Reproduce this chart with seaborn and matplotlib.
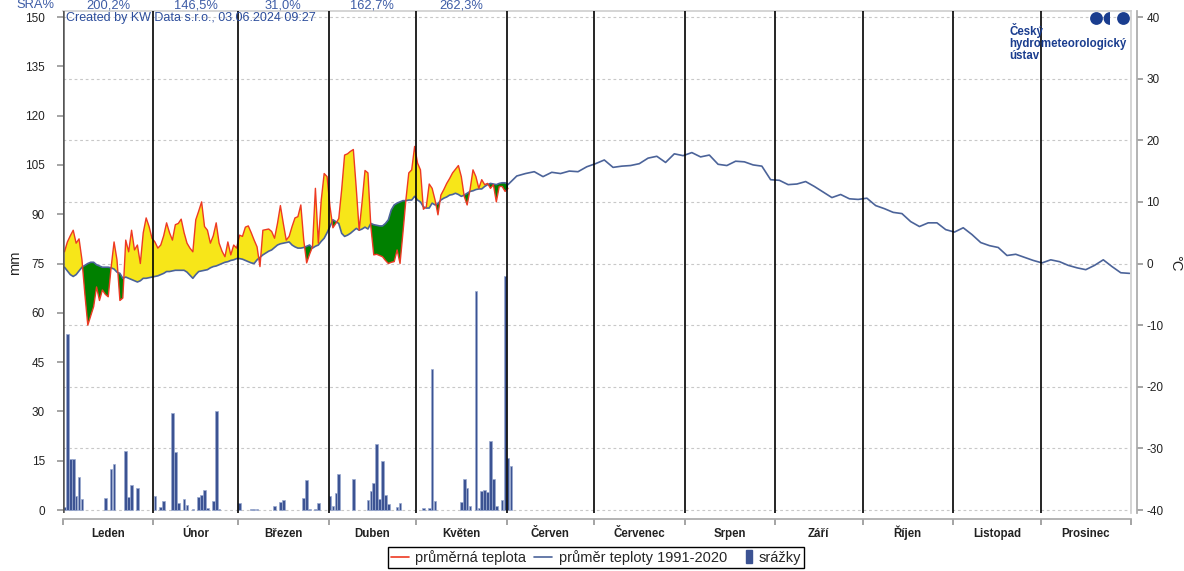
import numpy as np
import pandas as pd
import matplotlib
matplotlib.use("Agg")
import matplotlib.pyplot as plt
import matplotlib.transforms as mtransforms
from matplotlib.patches import Circle, Wedge, Rectangle, Patch
from matplotlib.lines import Line2D
from matplotlib.legend_handler import HandlerPatch
import seaborn as sns

# ---------------- data ----------------
months = ["Leden", "Únor", "Březen", "Duben", "Květen", "Červen", "Červenec",
          "Srpen", "Září", "Říjen", "Listopad", "Prosinec"]
month_days = [31, 29, 31, 30, 31, 30, 31, 31, 30, 31, 30, 31]
sra_label = "SRA%"
sra_values = ["200,2%", "146,5%", "31,0%", "162,7%", "262,3%"]

# daily mean temperature 2024 (°C)
temp_jan = [1.9, 3.5, 4.5, 5.4, 3.3, 4.0, 0.6, -5.0, -10.0, -8.5, -7.0, -3.8, -6.0, -4.3, -5.0,
            -5.4, -0.6, 3.5, 0.6, -6.0, -5.6, 3.8, 1.9, 5.4, 2.2, 3.0, 0.0, 5.0, 7.4, 6.0, 4.1]
temp_feb = [3.5, 2.5, 3.0, 4.5, 6.6, 5.0, 3.8, 6.3, 6.5, 7.2, 5.0, 3.3, 2.5, 1.9, 7.1,
            8.5, 10.0, 6.0, 5.4, 3.3, 4.5, 6.6, 3.3, 2.0, 1.1, 3.5, 1.4, 3.0, 2.5]
temp_mar = [4.6, 4.4, 5.9, 6.1, 5.0, 3.8, 2.7, -0.5, 5.4, 5.5, 5.6, 5.2, 4.1, 6.5, 9.4,
            6.5, 3.8, 4.4, 6.0, 7.4, 7.6, 9.5, 3.8, 0.1, 1.5, 2.7, 12.2, 3.3, 10.3, 14.6, 14.1]
temp_apr = [9.2, 5.8, 6.5, 7.3, 12.0, 17.6, 17.8, 18.2, 18.5, 12.2, 5.4, 10.0, 15.1, 14.7, 6.0,
            1.4, 1.5, 1.3, 1.1, 0.5, 0.0, 0.2, 0.3, 2.2, 0.0, 5.0, 10.3, 14.7, 15.2, 19.0]
temp_may = [16.3, 15.2, 8.8, 9.2, 12.9, 12.2, 10.3, 7.9, 11.1, 12.0, 13.0, 13.8, 14.7, 15.3, 15.9,
            14.1, 10.9, 9.5, 12.0, 15.2, 14.1, 12.2, 13.6, 12.8, 13.0, 12.2, 12.8, 10.0, 12.5, 12.5, 11.7]
temp_jun = [12.2]

# normal 1991-2020 (°C), daily for the measured period
norm_jan = [-0.6, -1.2, -1.8, -2.1, -1.8, -1.2, -0.6, -0.3, 0.0, 0.2, 0.2, -0.2, -0.4, -0.6, -0.6,
            -0.6, -0.7, -0.9, -1.4, -1.6, -2.4, -2.2, -2.4, -2.6, -2.8, -3.0, -2.8, -2.4, -2.4, -2.3, -2.2]
norm_feb = [-2.1, -2.0, -1.8, -1.6, -1.3, -1.3, -1.2, -1.1, -1.1, -1.1, -1.1, -1.4, -1.9, -2.4, -1.8,
            -1.3, -1.2, -1.1, -1.0, -0.7, -0.5, -0.4, -0.2, 0.0, 0.2, 0.3, 0.5, 0.6, 0.8]
norm_mar = [0.8, 0.7, 0.5, 0.3, 0.1, 0.0, 0.6, 1.0, 1.4, 1.7, 2.0, 2.2, 2.6, 3.0, 3.2,
            3.3, 3.4, 3.5, 3.0, 2.7, 2.5, 2.5, 2.6, 2.8, 3.0, 2.5, 2.8, 3.0, 3.6, 4.1, 5.0]
norm_apr = [6.0, 7.1, 6.8, 6.5, 4.9, 4.4, 4.6, 4.9, 5.3, 5.7, 5.4, 5.6, 5.9, 5.6, 6.5,
            6.3, 6.2, 6.1, 6.1, 6.5, 7.1, 8.7, 9.5, 9.8, 10.0, 10.2, 10.2, 10.3, 10.3, 10.9]
norm_may = [10.3, 10.0, 9.2, 9.0, 9.0, 9.8, 9.5, 9.7, 10.3, 10.6, 10.8, 11.1, 11.2, 11.4, 11.2,
            10.9, 11.1, 11.4, 11.7, 11.8, 12.0, 12.1, 12.1, 12.5, 12.8, 13.0, 12.9, 12.8, 13.0, 13.1, 13.1]
norm_jun = [12.8]
# normal for the rest of the year, every 3rd day from day 155 (4 June) to day 365
norm_rest_start = 155
norm_rest_step = 3
norm_rest = [14.2, 14.6, 14.9, 14.1, 14.8, 14.6, 15.0, 14.9, 15.7, 16.2,
             16.8, 15.6, 15.8, 15.9, 16.2, 17.1, 17.4, 16.4, 17.8, 17.5,
             18.0, 17.3, 17.6, 16.1, 15.9, 16.6, 16.5, 16.0, 15.8, 13.6,
             13.5, 12.8, 12.9, 13.3, 12.5, 11.6, 10.7, 11.2, 10.5, 10.4,
             10.6, 9.4, 8.9, 8.3, 8.1, 6.8, 6.0, 6.6, 6.6, 5.5,
             5.1, 5.8, 4.7, 3.4, 2.9, 2.6, 1.3, 1.5, 1.0, 0.5,
             0.1, 0.6, 0.3, -0.3, -0.7, -1.0, -0.3, 0.6, -0.5, -1.5, -1.6]

# daily precipitation (mm)
precip_jan = [0.9, 53.7, 15.6, 15.6, 4.4, 10.0, 3.2, 0, 0, 0, 0, 0, 0, 0, 3.7,
              0, 12.6, 14.1, 0, 0, 0, 17.9, 4.1, 7.7, 0, 6.8, 0, 0, 0, 0, 0]
precip_feb = [4.4, 0, 0.9, 2.6, 0, 0, 29.5, 17.8, 2.1, 0, 3.2, 1.4, 0, 0.2, 0,
              3.9, 4.7, 6.2, 0.7, 0, 2.7, 30.1, 0.4, 0, 0, 0, 0, 0, 0]
precip_mar = [2.1, 0, 0, 0, 0.3, 0.3, 0.3, 0, 0, 0, 0, 0, 1.1, 0, 2.4,
              2.9, 0, 0, 0, 0, 0, 0, 3.7, 9.0, 0.2, 0, 0.4, 2.2, 0, 0, 0]
precip_apr = [4.2, 1.2, 5.2, 11.0, 0, 0, 0, 0, 9.3, 0, 0, 0, 0, 2.9, 5.9,
              8.2, 20.0, 3.4, 14.8, 4.6, 1.7, 0, 0, 0.9, 2.1, 0, 0, 0, 0, 0]
precip_may = [0, 0, 0.5, 0, 0.5, 42.8, 2.7, 0, 0, 0, 0, 0, 0, 0, 0,
              2.4, 9.5, 6.8, 1.2, 0, 66.6, 0.5, 5.9, 6.2, 5.4, 20.9, 9.5, 1.2, 0, 2.9, 71.1]
precip_jun = [15.9, 13.3]

created_text = "Created by KW Data s.r.o., 03.06.2024 09:27"
logo_lines = ["Český", "hydrometeorologický", "ústav"]
legend_labels = ["průměrná teplota", "průměr teploty 1991-2020", "srážky"]

# ---------------- assemble ----------------
temp = np.array(temp_jan + temp_feb + temp_mar + temp_apr + temp_may + temp_jun)
norm_daily = np.array(norm_jan + norm_feb + norm_mar + norm_apr + norm_may + norm_jun)
t_days = np.arange(len(temp)) + 0.5
rest_days = norm_rest_start + norm_rest_step * np.arange(len(norm_rest)) + 0.5
norm_df = pd.DataFrame({"day": np.concatenate([t_days, rest_days]),
                        "t": np.concatenate([norm_daily, norm_rest])})
temp_df = pd.DataFrame({"day": t_days, "t": temp})
precip = np.array(precip_jan + precip_feb + precip_mar + precip_apr + precip_may + precip_jun)
p_days = np.arange(len(precip)) + 0.5
wet = precip > 0

month_start = np.concatenate([[0], np.cumsum(month_days)])
month_mid = month_start[:-1] + np.array(month_days) / 2

# ---------------- style ----------------
sns.set_theme(style="white")
plt.rcParams['font.family'] = ['Liberation Sans', 'DejaVu Sans']
plt.rcParams['axes.unicode_minus'] = False

C_RED = "#ee3a23"
C_BLUE = "#4b6399"
C_BAR = "#3c5393"
C_YEL = "#f7e619"
C_GRN = "#008000"
C_TXT = "#2c4d9c"

W, H = 1184, 571
fig = plt.figure(figsize=(W / 100, H / 100), dpi=100)
ax = fig.add_axes([63 / W, 1 - 513 / H, 1068 / W, 502 / H])
ax2 = ax.twinx()
ax.set_zorder(ax2.get_zorder() + 1)
ax.patch.set_visible(False)
ax2.patch.set_facecolor("white")
ax2.patch.set_visible(True)

mm_lo, mm_hi = -0.91, 151.83
ax.set_ylim(mm_lo, mm_hi)
ax2.set_ylim((mm_lo - 75) / 1.875, (mm_hi - 75) / 1.875)
ax.set_xlim(month_start[0], month_start[-1])

# bars
ax.bar(p_days[wet], precip[wet], width=0.9, color=C_BAR, edgecolor="#9aaad0", linewidth=0.5, zorder=3)

# temperatures
ax2.fill_between(t_days, temp, norm_daily, where=temp >= norm_daily, interpolate=True,
                 color=C_YEL, linewidth=0, zorder=2)
ax2.fill_between(t_days, temp, norm_daily, where=temp < norm_daily, interpolate=True,
                 color=C_GRN, linewidth=0, zorder=2)
sns.lineplot(data=norm_df, x="day", y="t", ax=ax2, color=C_BLUE, linewidth=1.2,
             sort=False, estimator=None, zorder=3)
sns.lineplot(data=temp_df, x="day", y="t", ax=ax2, color=C_RED, linewidth=1.0,
             sort=False, estimator=None, zorder=4)

# grid
ax2.set_yticks(np.arange(-40, 41, 10))
ax2.grid(axis="y", color="#c8c8c8", linestyle=(0, (2.5, 2.5)), linewidth=0.8)
ax2.grid(axis="x", visible=False)
ax.grid(False)

# month separators
for s in month_start[1:-1]:
    ax.axvline(s, color="black", linewidth=1.2, zorder=5)
ax.axvline(month_start[0], color="#555555", linewidth=1.8, zorder=5)

# spines
ax.spines["top"].set_color("#d0d0d0")
ax.spines["right"].set_color("#d0d0d0")
ax.spines["left"].set_visible(False)
ax.spines["bottom"].set_position(("outward", 4))
ax.spines["bottom"].set_color("#aaaaaa")
for side in ["top", "left", "bottom"]:
    ax2.spines[side].set_visible(False)
ax2.spines["right"].set_position(("outward", 4))
ax2.spines["right"].set_color("#aaaaaa")

# ticks
ax.set_xticks(month_start)
ax.set_xticklabels([])
ax.tick_params(axis="x", which="major", length=4, color="#999999", bottom=True)
ax.set_yticks(np.arange(0, 151, 15))
ax.tick_params(axis="y", left=True, length=4, color="#999999", labelsize=8.5,
               labelcolor="#222222", pad=9)
ax2.tick_params(axis="y", right=True, length=4, color="#999999", labelsize=8.5,
                labelcolor="#222222", pad=3)
ax.set_ylabel("")
ax2.set_ylabel("")
ax.set_xlabel("")
ax2.set_xlabel("")

# month names (baseline-aligned so accents do not shift them)
trans = mtransforms.blended_transform_factory(ax.transData, fig.transFigure)
for mid, name in zip(month_mid, months):
    ax.text(mid, 1 - 537 / H, name, transform=trans, ha="center", va="baseline",
            fontsize=8.3, fontweight="bold", color="#222222", clip_on=False)

# axis titles
fig.text(15 / W, 1 - 263 / H, "mm", rotation=90, ha="center", va="center",
         fontsize=10.5, color="#222222")
fig.text(1175 / W, 1 - 263 / H, "°C", rotation=270, ha="center", va="center",
         fontsize=10.5, color="#222222")

# top texts (SRA %), kept inside the figure
for mid, v in zip(month_mid, sra_values):
    ax.text(mid, 1 - 5.5 / H, v, transform=trans, ha="center", va="center",
            fontsize=9.3, color="#3d5ca6", clip_on=False)
fig.text(16 / W, 1 - 5.5 / H, sra_label, ha="left", va="center", fontsize=9.3, color="#3d5ca6")

# overlay for logo / credit
ov = fig.add_axes([0, 0, 1, 1])
ov.set_xlim(0, W)
ov.set_ylim(H, 0)
ov.axis("off")
ov.patch.set_visible(False)
ov.set_zorder(20)
ov.text(66, 18, created_text, fontsize=9, color=C_TXT, ha="left", va="center")
LOGO = "#1a3d8f"
ov.add_patch(Circle((1096.5, 18.5), 6.4, color=LOGO, lw=0))
ov.add_patch(Wedge((1110.0, 18.5), 6.4, 90, 270, color=LOGO, lw=0))
ov.add_patch(Circle((1123.5, 18.5), 6.4, color=LOGO, lw=0))
for i, line in enumerate(logo_lines):
    ov.text(1009, 34.5 + 12.3 * i, line, fontsize=8.3, fontweight="bold", color=LOGO,
            ha="left", va="baseline")

# legend
def narrow_rect(legend, orig_handle, xdescent, ydescent, width, height, fontsize):
    w = width * 0.36
    return Rectangle((-xdescent + width - w, -ydescent - 0.15 * height), w, height * 1.3)

handles = [Line2D([], [], color=C_RED, linewidth=1.2),
           Line2D([], [], color=C_BLUE, linewidth=1.2),
           Patch(facecolor=C_BAR, edgecolor=C_BAR)]
leg = fig.legend(handles, legend_labels, loc="upper center",
                 bbox_to_anchor=(596 / W, 1 - 547 / H), ncol=3, frameon=True, fancybox=False,
                 edgecolor="black", framealpha=1, fontsize=10.5, handlelength=1.25,
                 handletextpad=0.45, columnspacing=0.5, borderpad=0.2, borderaxespad=0,
                 handler_map={Patch: HandlerPatch(patch_func=narrow_rect)})
leg.get_frame().set_linewidth(1.0)

fig.savefig("out.png", dpi=100)
